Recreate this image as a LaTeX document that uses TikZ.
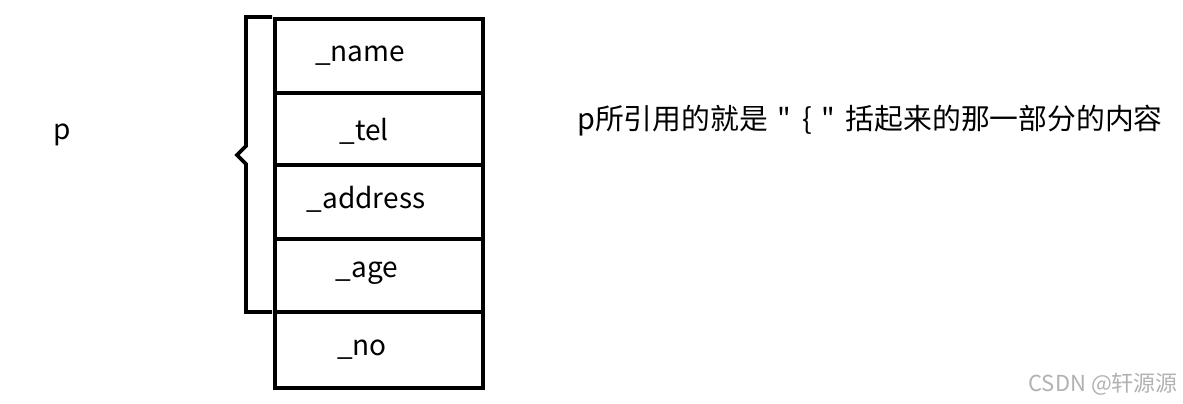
\documentclass[tikz,border=0pt]{standalone}
\usepackage{fontspec}
\newfontfamily\cjk{Noto Sans CJK SC}
\begin{document}
\begin{tikzpicture}[x=1pt,y=-1pt,
  cell/.style={draw=black,line width=3.6pt,inner sep=0pt,minimum width=208pt,anchor=north west},
  lbl/.style={inner sep=0pt,font=\cjk\fontsize{28}{32}\selectfont},
  notefont/.style={inner sep=0pt,font=\cjk\fontsize{28.8}{34}\selectfont},
  wmark/.style={inner sep=0pt,text=black!30,font=\cjk\fontsize{22}{26}\selectfont}]
\useasboundingbox[fill=white] (0,0) rectangle (1183,404);
\node[cell,minimum height=74pt] (c1) at (273,17) {};
\node[cell,minimum height=72pt] (c2) at (273,91) {};
\node[cell,minimum height=74pt] (c3) at (273,163) {};
\node[cell,minimum height=73pt] (c4) at (273,237) {};
\node[cell,minimum height=76pt] (c5) at (273,310) {};
\node[lbl] (t1) at (360,56) {\_name};
\node[lbl] (t2) at (364,131) {\_tel};
\node[lbl] (t3) at (366,199) {\_address};
\node[lbl] (t4) at (367,273) {\_age};
\node[lbl] (t5) at (362,350) {\_no};
\draw[line width=3.6pt,line join=miter] (272,17) -- (246,17) -- (246,146) -- (237,155) -- (246,164) -- (246,312) -- (272,312);
\node[lbl] (p) at (62,135) {p};
\node[notefont,anchor=west] (note) at (577,121) {p所引用的就是\hspace{10pt}"\hspace{11pt}\{\hspace{9pt}"\hspace{11pt}括起来的那一部分的内容};
\node[wmark,anchor=east] (wm) at (1178,384) {CSDN @轩源源};
\end{tikzpicture}
\end{document}
